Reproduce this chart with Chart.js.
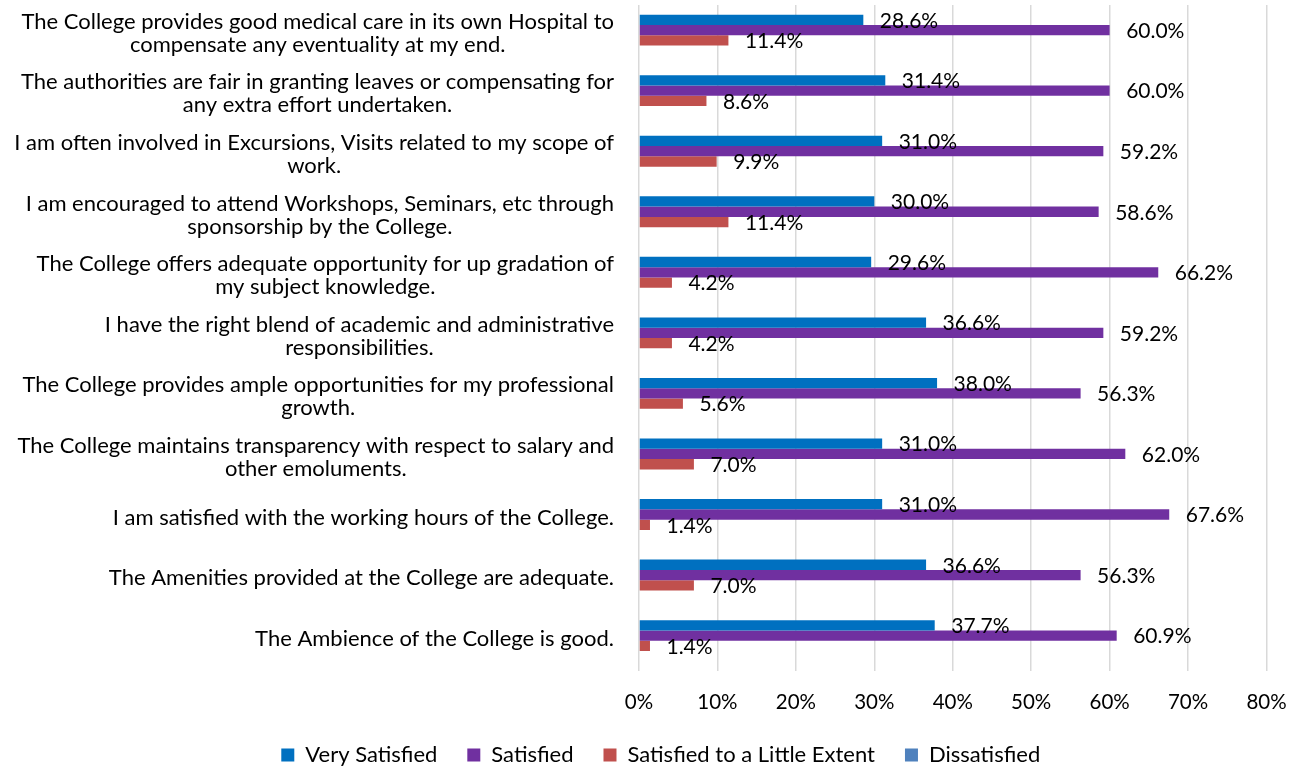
<!DOCTYPE html>
<html>
<head>
<meta charset="utf-8">
<script src="https://cdn.jsdelivr.net/npm/chart.js@4/dist/chart.umd.min.js"></script>
<style>
  html, body { margin: 0; padding: 0; background: #fff; overflow: hidden; }
  #wrap { width: 1299px; height: 768px; }
  canvas { display: block; }
</style>
</head>
<body>
<div id="wrap"><canvas id="grafico"></canvas></div>
<script>
const categorias = [
    ['The College provides good medical care in its own Hospital to', 'compensate any eventuality at my end.'],
    ['The authorities are fair in granting leaves or compensating for', 'any extra effort undertaken.'],
    ['I am often involved in Excursions, Visits related to my scope of', 'work.'],
    ['I am encouraged to attend Workshops, Seminars, etc through', 'sponsorship by the College.'],
    ['The College offers adequate opportunity for up gradation of', 'my subject knowledge.'],
    ['I have the right blend of academic and administrative', 'responsibilities.'],
    ['The College provides ample opportunities for my professional', 'growth.'],
    ['The College maintains transparency with respect to salary and', 'other emoluments.'],
    ['I am satisfied with the working hours of the College.'],
    ['The Amenities provided at the College are adequate.'],
    ['The Ambience of the College is good.']
];

const muitoSatisfeito = [28.6, 31.4, 31.0, 30.0, 29.6, 36.6, 38.0, 31.0, 31.0, 36.6, 37.7];
const satisfeito      = [60.0, 60.0, 59.2, 58.6, 66.2, 59.2, 56.3, 62.0, 67.6, 56.3, 60.9];
const poucoSatisfeito = [11.4, 8.6, 9.9, 11.4, 4.2, 4.2, 5.6, 7.0, 1.4, 7.0, 1.4];
const insatisfeito    = [null, null, null, null, null, null, null, null, null, null, null];

const ticksX = [0, 10, 20, 30, 40, 50, 60, 70, 80];

const FONTE = 'Lato, "Open Sans", sans-serif';

// acha o tamanho da fonte que da a largura do texto no original (Calibri nao existe aqui)
function tamanhoPara(texto, largura) {
    const c = document.createElement('canvas').getContext('2d');
    c.font = '100px ' + FONTE;
    return Math.round(largura / c.measureText(texto).width * 100 * 4) / 4;
}
const tamCat = tamanhoPara('I am satisfied with the working hours of the College.', 504);
const tamValor = tamanhoPara('67.6%', 58);
const tamTick = tamanhoPara('80%', 40);
const tamLegenda = tamanhoPara('Very Satisfied', 132);

// rotulos das categorias: linhas centralizadas, bloco alinhado a direita
const rotulosY = {
    id: 'rotulosY',
    afterDraw(chart) {
        const ctx = chart.ctx;
        const y = chart.scales.y;
        ctx.save();
        ctx.font = tamCat + 'px ' + FONTE;
        ctx.fillStyle = '#000';
        ctx.textAlign = 'center';
        ctx.textBaseline = 'middle';
        categorias.forEach((linhas, i) => {
            let larg = Math.max(...linhas.map(l => ctx.measureText(l).width));
            let cx = 614 - larg / 2;
            let cy = y.getPixelForTick(i) - 2;
            linhas.forEach((l, j) => {
                ctx.fillText(l, cx, cy + (j - (linhas.length - 1) / 2) * 23);
            });
        });
        ctx.restore();
    }
};

// valores no fim das barras
const valores = {
    id: 'valores',
    afterDatasetsDraw(chart) {
        const ctx = chart.ctx;
        ctx.save();
        ctx.font = tamValor + 'px ' + FONTE;
        ctx.fillStyle = '#000';
        ctx.textAlign = 'left';
        ctx.textBaseline = 'middle';
        chart.data.datasets.forEach((ds, d) => {
            chart.getDatasetMeta(d).data.forEach((bar, i) => {
                let v = ds.data[i];
                if (v === null) return;
                ctx.fillText(v.toFixed(1) + '%', bar.x + 16.5, bar.y + 1);
            });
        });
        ctx.restore();
    }
};

// legenda: altura fixa e deslocada um pouco para a direita
const ajusteLegenda = {
    id: 'ajusteLegenda',
    afterInit(chart) {
        const leg = chart.legend;
        const fitOrig = leg.fit;
        leg.fit = function () { fitOrig.call(this); this.height = 54; };
        const drawOrig = leg.draw;
        leg.draw = function () {
            this.ctx.save();
            this.ctx.translate(27.5, 0);
            drawOrig.call(this);
            this.ctx.restore();
        };
    }
};

new Chart(document.getElementById('grafico').getContext('2d'), {
    type: 'bar',
    data: {
        labels: categorias,
        datasets: [
            { label: 'Very Satisfied', data: muitoSatisfeito, backgroundColor: '#0070C0' },
            { label: 'Satisfied', data: satisfeito, backgroundColor: '#7030A0' },
            { label: 'Satisfied to a Little Extent', data: poucoSatisfeito, backgroundColor: '#C0504D' },
            { label: 'Dissatisfied', data: insatisfeito, backgroundColor: '#4F81BD' }
        ]
    },
    options: {
        indexAxis: 'y',
        responsive: true,
        maintainAspectRatio: false,
        animation: false,
        layout: { padding: { top: 5, right: 32.5, bottom: 0, left: 0 } },
        datasets: { bar: { categoryPercentage: 0.68, barPercentage: 1.0 } },
        scales: {
            x: {
                min: 0, max: 80,
                afterBuildTicks: (s) => { s.ticks = ticksX.map(v => ({ value: v })); },
                afterFit: (s) => { s.height = 43; s.paddingLeft = 0; s.paddingRight = 0; },
                ticks: {
                    callback: (v) => v + '%',
                    color: '#000',
                    font: { family: FONTE, size: tamTick },
                    padding: 19
                },
                grid: { color: '#D9D9D9', lineWidth: 1.5, drawTicks: false },
                border: { display: false }
            },
            y: {
                afterFit: (s) => { s.width = 639; },
                ticks: { display: false },
                grid: { display: false, drawTicks: false },
                border: { display: false }
            }
        },
        plugins: {
            legend: {
                position: 'bottom',
                labels: {
                    boxWidth: 13,
                    boxHeight: 13,
                    padding: 30,
                    color: '#000',
                    font: { family: FONTE, size: tamLegenda }
                }
            },
            tooltip: { enabled: false }
        }
    },
    plugins: [rotulosY, valores, ajusteLegenda]
});
</script>
</body>
</html>
